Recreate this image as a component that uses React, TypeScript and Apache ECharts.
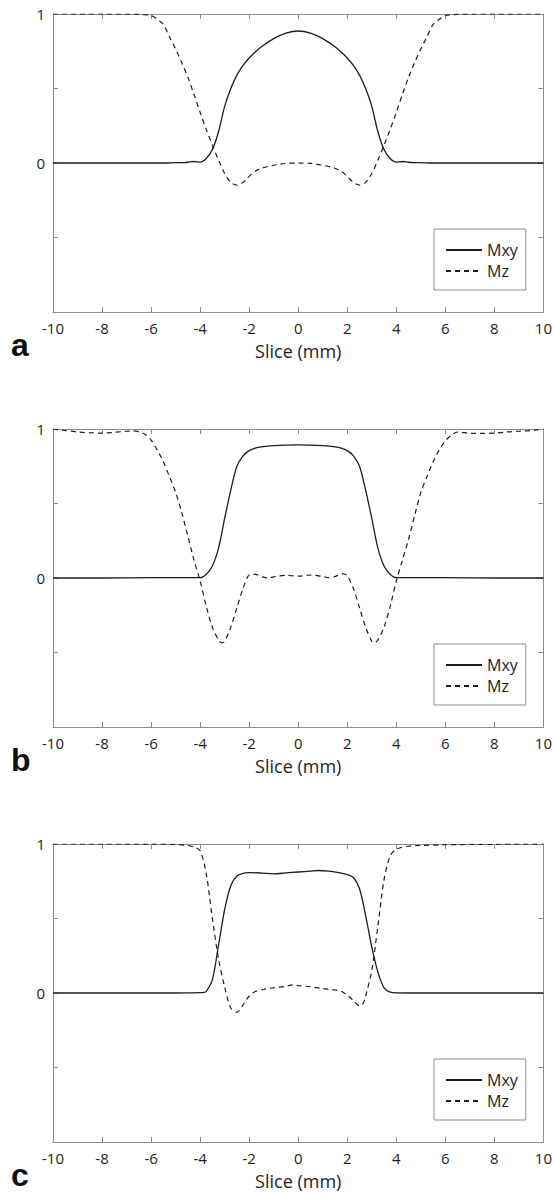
import React, { useEffect, useRef } from "react";
import * as echarts from "echarts";

// ---- data (slice in mm, magnetisation) ----
const panelLetters = ["a", "b", "c"];
const seriesNames = ["Mxy", "Mz"];
const xTickInterval = 2;
const yTickInterval = 0.5;
const yLabelValues = [0, 1];
const xAxisName = "Slice (mm)";

const mxyA: number[][] = [
  [-10, 0], [-8, 0], [-7, 0], [-6, 0], [-5.5, 0], [-5, 0.002], [-4.75, 0.003], [-4.5, 0.005],
  [-4.25, 0.01], [-4, 0.006], [-3.75, 0.03], [-3.5, 0.09], [-3.25, 0.21], [-3, 0.38],
  [-2.75, 0.5], [-2.5, 0.59], [-2.25, 0.655], [-2, 0.705], [-1.75, 0.745], [-1.5, 0.78],
  [-1, 0.835], [-0.5, 0.872], [0, 0.886], [0.5, 0.872], [1, 0.835], [1.5, 0.78], [1.75, 0.745],
  [2, 0.705], [2.25, 0.655], [2.5, 0.59], [2.75, 0.5], [3, 0.38], [3.25, 0.21], [3.5, 0.09],
  [3.75, 0.03], [4, 0.006], [4.25, 0.01], [4.5, 0.005], [4.75, 0.003], [5, 0.002],
  [5.5, 0], [6, 0], [7, 0], [8, 0], [10, 0],
];
const mzA: number[][] = [
  [-10, 1], [-8, 1], [-7, 1], [-6.5, 0.998], [-6.25, 0.995], [-6, 0.99], [-5.75, 0.965],
  [-5.5, 0.93], [-5.25, 0.847], [-5, 0.765], [-4.75, 0.675], [-4.5, 0.575], [-4.25, 0.46],
  [-4, 0.34], [-3.75, 0.225], [-3.5, 0.12], [-3.25, 0.02], [-3, -0.07], [-2.75, -0.13],
  [-2.5, -0.148], [-2.25, -0.13], [-2, -0.09], [-1.75, -0.055], [-1.5, -0.035], [-1, -0.015],
  [-0.5, -0.003], [0, 0], [0.5, -0.003], [1, -0.015], [1.5, -0.035], [1.75, -0.055],
  [2, -0.09], [2.25, -0.13], [2.5, -0.148], [2.75, -0.13], [3, -0.07], [3.25, 0.02],
  [3.5, 0.12], [3.75, 0.225], [4, 0.34], [4.25, 0.46], [4.5, 0.575], [4.75, 0.675],
  [5, 0.765], [5.25, 0.847], [5.5, 0.93], [5.75, 0.965], [6, 0.99], [6.25, 0.995],
  [6.5, 0.998], [7, 1], [8, 1], [10, 1],
];

const mxyB: number[][] = [
  [-10, 0], [-8, 0], [-6, 0.002], [-5, 0.003], [-4.5, 0.003], [-4.25, 0.002], [-4, 0.002],
  [-3.75, 0.025], [-3.5, 0.08], [-3.25, 0.2], [-3, 0.4], [-2.75, 0.59], [-2.5, 0.75],
  [-2.25, 0.82], [-2, 0.855], [-1.75, 0.872], [-1.5, 0.88], [-1, 0.888], [-0.5, 0.892],
  [0, 0.893], [0.5, 0.892], [1, 0.888], [1.5, 0.88], [1.75, 0.872], [2, 0.855],
  [2.25, 0.82], [2.5, 0.75], [2.75, 0.59], [3, 0.4], [3.25, 0.2], [3.5, 0.08],
  [3.75, 0.025], [4, 0.002], [4.25, 0.002], [4.5, 0.003], [5, 0.003], [6, 0.002],
  [8, 0], [10, 0],
];
const mzB: number[][] = [
  [-10, 1], [-9.5, 0.99], [-9, 0.98], [-8.5, 0.975], [-8, 0.972], [-7.5, 0.978], [-7, 0.985],
  [-6.75, 0.987], [-6.5, 0.982], [-6.25, 0.965], [-6, 0.925], [-5.75, 0.86], [-5.5, 0.78],
  [-5.25, 0.68], [-5, 0.575], [-4.75, 0.44], [-4.5, 0.28], [-4.25, 0.12], [-4, -0.02],
  [-3.75, -0.19], [-3.5, -0.33], [-3.25, -0.415], [-3.1, -0.435], [-3, -0.425],
  [-2.75, -0.33], [-2.5, -0.2], [-2.25, -0.07], [-2, 0.02], [-1.75, 0.025], [-1.5, 0.01],
  [-1.25, 0.0], [-1, 0.008], [-0.5, 0.018], [0, 0.012], [0.5, 0.02], [1, 0.01],
  [1.25, 0.002], [1.5, 0.01], [1.8, 0.03], [2, 0.015], [2.25, -0.07], [2.5, -0.2],
  [2.75, -0.33], [3, -0.425], [3.1, -0.435], [3.25, -0.415], [3.5, -0.33], [3.75, -0.19],
  [4, -0.02], [4.25, 0.12], [4.5, 0.26], [4.75, 0.42], [5, 0.575], [5.25, 0.68],
  [5.5, 0.78], [5.75, 0.86], [6, 0.92], [6.25, 0.96], [6.5, 0.98], [7, 0.972],
  [7.5, 0.97], [8, 0.972], [8.5, 0.98], [9, 0.985], [9.5, 0.99], [10, 1],
];

const mxyC: number[][] = [
  [-10, 0], [-8, 0], [-6, 0], [-5, 0], [-4.25, 0.001], [-4, 0.002], [-3.85, 0.004],
  [-3.75, 0.01], [-3.5, 0.09], [-3.25, 0.32], [-3, 0.56], [-2.75, 0.72], [-2.5, 0.785],
  [-2.25, 0.803], [-2, 0.808], [-1.5, 0.805], [-1, 0.8], [-0.5, 0.806], [0, 0.812],
  [0.5, 0.818], [0.8, 0.822], [1.25, 0.818], [1.75, 0.805], [2, 0.795], [2.25, 0.775],
  [2.5, 0.7], [2.75, 0.52], [3, 0.31], [3.25, 0.14], [3.5, 0.035], [3.75, 0.006],
  [4, 0.001], [5, 0], [6, 0], [8, 0], [10, 0],
];
const mzC: number[][] = [
  [-10, 1], [-8, 1], [-6, 0.999], [-5, 0.997], [-4.5, 0.99], [-4.25, 0.98], [-4, 0.955],
  [-3.75, 0.8], [-3.5, 0.5], [-3.25, 0.23], [-3, 0.04], [-2.75, -0.1], [-2.5, -0.13],
  [-2.25, -0.08], [-2, -0.02], [-1.75, 0.01], [-1.5, 0.02], [-1.25, 0.03], [-1, 0.035],
  [-0.5, 0.045], [-0.25, 0.055], [0, 0.05], [0.5, 0.042], [1, 0.03], [1.5, 0.02],
  [1.75, 0.012], [2, -0.015], [2.25, -0.05], [2.5, -0.087], [2.65, -0.07], [2.75, -0.02],
  [3, 0.15], [3.25, 0.45], [3.5, 0.76], [3.75, 0.92], [4, 0.965], [4.5, 0.985],
  [5, 0.99], [6, 0.995], [8, 0.998], [10, 1],
];

const panels = [
  { mxy: mxyA, mz: mzA },
  { mxy: mxyB, mz: mzB },
  { mxy: mxyC, mz: mzC },
];

// ---- layout ----
const W = 555;
const H = 1193;
const GRID_LEFT = 53;
const GRID_WIDTH = 493;
const GRID_HEIGHT = 298;
const GRID_TOPS = [14, 429, 844];
const AXIS_COLOR = "#8d8d8d";
const LINE_COLOR = "#1c1c1c";
const TEXT_COLOR = "#1e1e1e";
const FONT = '"Open Sans", "Noto Sans", sans-serif';
const LETTER_SIZE = 32;

function buildOption() {
  const grid = GRID_TOPS.map((top) => ({
    left: GRID_LEFT,
    top,
    width: GRID_WIDTH,
    height: GRID_HEIGHT,
    containLabel: false,
  }));

  const axisLine = { show: true, onZero: false, lineStyle: { color: AXIS_COLOR, width: 1 } };
  const axisTick = { show: true, inside: true, length: 5, lineStyle: { color: AXIS_COLOR, width: 1 } };

  const xAxis: any[] = [];
  GRID_TOPS.forEach((_, i) => {
    xAxis.push({
      gridIndex: i,
      type: "value",
      position: "bottom",
      min: -10,
      max: 10,
      interval: xTickInterval,
      axisLine,
      axisTick,
      splitLine: { show: false },
      axisLabel: { margin: 8, fontSize: 15, color: TEXT_COLOR, fontFamily: FONT },
      name: xAxisName,
      nameLocation: "middle",
      nameGap: 30,
      nameTextStyle: { fontSize: 18, color: TEXT_COLOR, fontFamily: FONT },
    });
  });
  GRID_TOPS.forEach((_, i) => {
    xAxis.push({
      gridIndex: i,
      type: "value",
      position: "top",
      min: -10,
      max: 10,
      interval: xTickInterval,
      axisLine,
      axisTick,
      splitLine: { show: false },
      axisLabel: { show: false },
    });
  });

  const yAxis: any[] = [];
  GRID_TOPS.forEach((_, i) => {
    yAxis.push({
      gridIndex: i,
      type: "value",
      position: "left",
      min: -1,
      max: 1,
      interval: yTickInterval,
      axisLine,
      axisTick,
      splitLine: { show: false },
      axisLabel: {
        margin: 8,
        fontSize: 15,
        color: TEXT_COLOR,
        fontFamily: FONT,
        formatter: (v: number) => (yLabelValues.includes(v) ? String(v) : ""),
      },
    });
  });
  GRID_TOPS.forEach((_, i) => {
    yAxis.push({
      gridIndex: i,
      type: "value",
      position: "right",
      min: -1,
      max: 1,
      interval: yTickInterval,
      axisLine,
      axisTick,
      splitLine: { show: false },
      axisLabel: { show: false },
    });
  });

  const series: any[] = [];
  panels.forEach((p, i) => {
    series.push({
      name: seriesNames[0],
      type: "line",
      xAxisIndex: i,
      yAxisIndex: i,
      data: p.mxy,
      symbol: "none",
      showSymbol: false,
      smooth: 0.3,
      itemStyle: { color: LINE_COLOR },
      lineStyle: { color: LINE_COLOR, width: 1.3, type: "solid" },
    });
    series.push({
      name: seriesNames[1],
      type: "line",
      xAxisIndex: i,
      yAxisIndex: i,
      data: p.mz,
      symbol: "none",
      showSymbol: false,
      smooth: 0.3,
      itemStyle: { color: LINE_COLOR },
      lineStyle: { color: LINE_COLOR, width: 1.2, type: [5, 4] },
    });
  });

  const legend = GRID_TOPS.map((top) => ({
    data: seriesNames,
    orient: "vertical",
    left: 434,
    top: top + 215,
    padding: [13, 8, 11, 11],
    itemWidth: 36,
    itemHeight: 12,
    itemGap: 5,
    borderColor: AXIS_COLOR,
    borderWidth: 1,
    backgroundColor: "#fff",
    selectedMode: false,
    itemStyle: { color: "rgba(0,0,0,0)", borderColor: "rgba(0,0,0,0)", borderWidth: 0 },
    textStyle: { fontSize: 16, lineHeight: 14, color: TEXT_COLOR, fontFamily: FONT },
  }));

  // panel letters: baseline ~44px below each plot's bottom edge
  const graphic = GRID_TOPS.map((top, i) => ({
    type: "text",
    x: 11,
    y: top + GRID_HEIGHT + 44 - Math.round(LETTER_SIZE * 0.35),
    style: {
      text: panelLetters[i],
      font: `bold ${LETTER_SIZE}px "Liberation Sans", Arial, sans-serif`,
      verticalAlign: "middle",
      align: "left",
      fill: "#111",
    },
  }));

  return {
    animation: false,
    backgroundColor: "#fff",
    grid,
    xAxis,
    yAxis,
    series,
    legend,
    graphic,
  };
}

export default function App() {
  const ref = useRef<HTMLDivElement>(null);
  useEffect(() => {
    if (!ref.current) return;
    const chart = echarts.init(ref.current, undefined, { renderer: "svg" });
    chart.setOption(buildOption() as any);
    return () => chart.dispose();
  }, []);
  return (
    <div
      ref={ref}
      style={{ position: "absolute", left: 0, top: 0, width: W, height: H }}
    />
  );
}
